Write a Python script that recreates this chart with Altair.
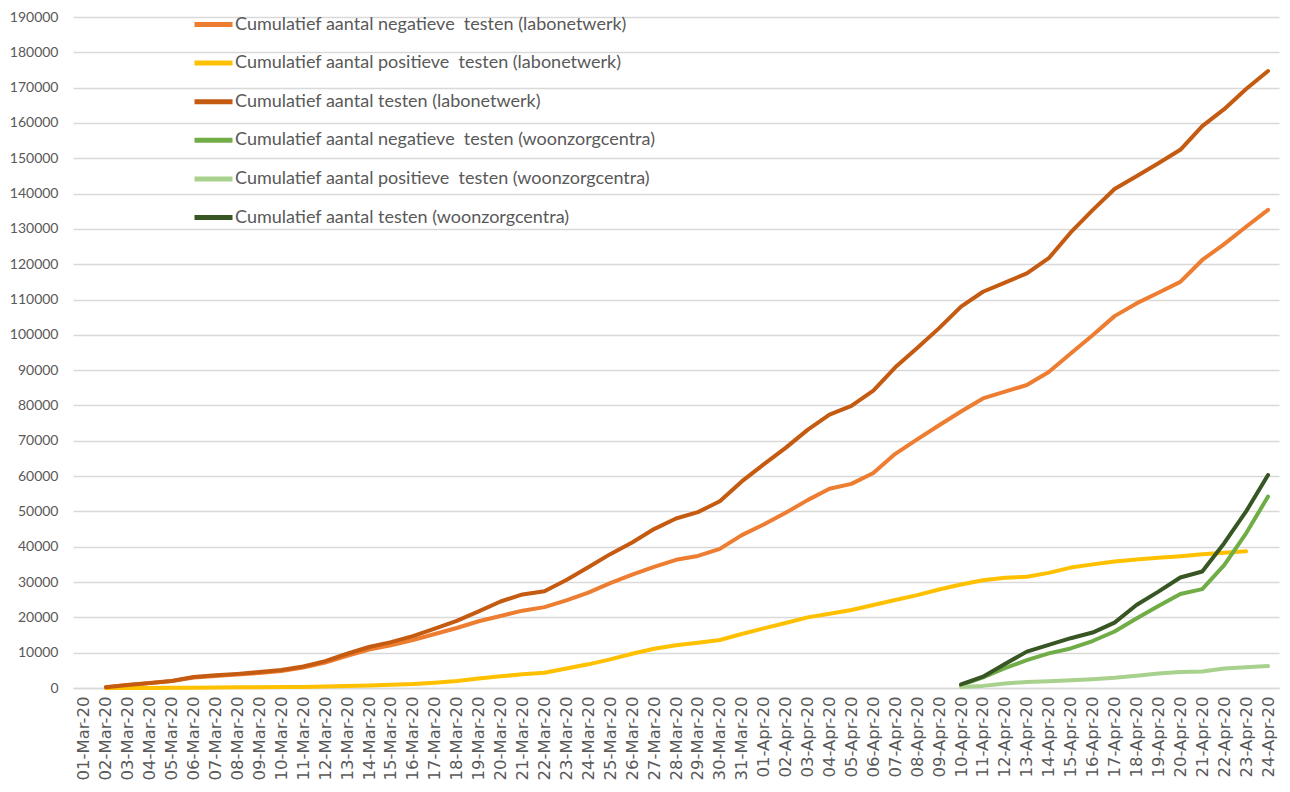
import altair as alt
import pandas as pd

dates = [f"{d:02d}-Mar-20" for d in range(1, 32)] + [f"{d:02d}-Apr-20" for d in range(1, 25)]

series_names = [
    "Cumulatief aantal negatieve\u00a0 testen (labonetwerk)",
    "Cumulatief aantal positieve\u00a0 testen (labonetwerk)",
    "Cumulatief aantal testen (labonetwerk)",
    "Cumulatief aantal negatieve\u00a0 testen (woonzorgcentra)",
    "Cumulatief aantal positieve\u00a0 testen (woonzorgcentra)",
    "Cumulatief aantal testen (woonzorgcentra)",
]
colors = ["#ED7D31", "#FFC000", "#C55A11", "#70AD47", "#A9D18E", "#375623"]

# labonetwerk: values from 02-Mar-20 (index 1) to 24-Apr-20 (index 54)
neg_lab = [None, 200, 840, 1380, 1950, 3000, 3430, 3800, 4260, 4830, 5790,
           7200, 9100, 10900, 12100, 13600, 15300, 17000, 18900, 20400, 21900,
           22900, 24800, 27000, 29700, 32100, 34300, 36300, 37400, 39400, 43300,
           46300, 49600, 53200, 56400, 57800, 60900, 66300, 70400, 74400, 78300,
           82000, 83900, 85800, 89500, 94700, 99900, 105300, 108900, 111900, 115000,
           121200, 125700, 130600, 135400]
pos_lab = [None, 0, 10, 20, 50, 100, 170, 200, 240, 270, 310,
           400, 560, 700, 890, 1100, 1500, 2000, 2700, 3300, 3900,
           4300, 5500, 6700, 8100, 9700, 11100, 12100, 12800, 13600, 15300,
           16900, 18400, 20000, 21000, 22100, 23500, 24900, 26300, 27900, 29300,
           30500, 31200, 31500, 32600, 34100, 35000, 35800, 36400, 36900, 37300,
           37900, 38300, 38700, None]
tot_lab = [None, 200, 850, 1400, 2000, 3100, 3600, 4000, 4500, 5100, 6100,
           7600, 9700, 11600, 13000, 14700, 16800, 19000, 21700, 24500, 26500,
           27400, 30600, 34200, 37900, 41200, 45000, 48000, 49800, 52900, 58500,
           63300, 68000, 73100, 77400, 79900, 84200, 90800, 96300, 101900, 108000,
           112200, 114800, 117400, 121700, 129000, 135300, 141300, 144900, 148600, 152400,
           159100, 163900, 169600, 174700]

# woonzorgcentra: values from 10-Apr-20 to 24-Apr-20
wzc_dates = dates[40:]
neg_wzc = [800, 3000, 5600, 7900, 9800, 11200, 13300, 16000, 19700, 23200, 26600, 28000, 34800, 43800, 54200]
pos_wzc = [300, 600, 1300, 1700, 1900, 2200, 2500, 2900, 3500, 4100, 4500, 4700, 5500, 5900, 6200]
tot_wzc = [1000, 3200, 6800, 10300, 12200, 14100, 15700, 18500, 23500, 27300, 31300, 33000, 41000, 50000, 60300]

rows = []
for name, vals, ds in [
    (series_names[0], neg_lab, dates),
    (series_names[1], pos_lab, dates),
    (series_names[2], tot_lab, dates),
    (series_names[3], neg_wzc, wzc_dates),
    (series_names[4], pos_wzc, wzc_dates),
    (series_names[5], tot_wzc, wzc_dates),
]:
    for d, v in zip(ds, vals):
        if v is not None:
            rows.append({"date": d, "value": v, "series": name})
df = pd.DataFrame(rows)

label_font = "Lato"

chart = alt.Chart(df).mark_line(strokeWidth=4, strokeCap="round", strokeJoin="round").encode(
    x=alt.X("date:O", sort=dates,
            scale=alt.Scale(domain=dates, padding=0.5),
            axis=alt.Axis(title=None, labelAngle=-90, ticks=False, grid=False,
                          domain=True, domainColor="#D9D9D9", domainWidth=1.5,
                          labelPadding=8, labelFont="DejaVu Sans", labelFontSize=16.5,
                          labelColor="#595959", labelOverlap=False)),
    y=alt.Y("value:Q",
            scale=alt.Scale(domain=[0, 190000], nice=False),
            axis=alt.Axis(title=None, values=list(range(0, 190001, 10000)), format="d",
                          ticks=False, domain=False, grid=True, gridColor="#D9D9D9",
                          gridWidth=1.5, labelPadding=15, labelFont=label_font,
                          labelFontSize=14, labelColor="#595959")),
    color=alt.Color("series:N",
                    scale=alt.Scale(domain=series_names, range=colors),
                    legend=alt.Legend(title=None, orient="none", legendX=119, legendY=-14,
                                      padding=0, symbolType="stroke", symbolSize=1444,
                                      symbolStrokeWidth=5, labelOffset=0, labelFontSize=18,
                                      labelFont=label_font, labelColor="#595959",
                                      rowPadding=6.6, labelLimit=0, symbolOpacity=1)),
).properties(
    width=1206, height=671,
    autosize=alt.AutoSizeParams(type="none"),
    padding={"left": 65, "top": 9, "right": 3, "bottom": 95},
).configure_view(stroke=None)

chart.save("out.html", embed_options={"renderer": "svg", "actions": False})
